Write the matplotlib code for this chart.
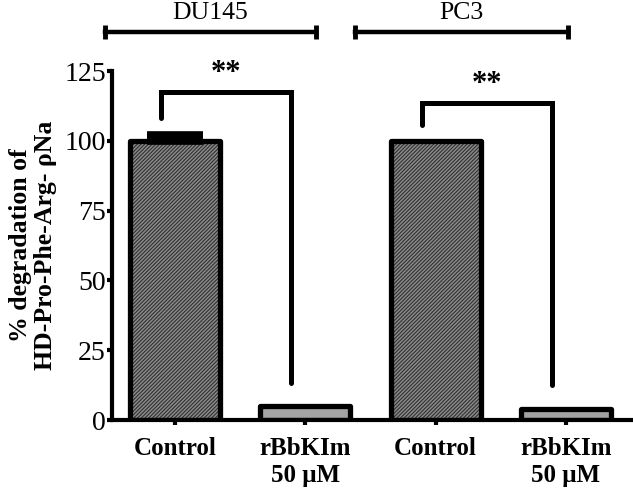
import matplotlib
matplotlib.use('Agg')
import matplotlib.pyplot as plt
import numpy as np

# data
labels = ['Control', 'rBbKIm\n50 \u03bcM', 'Control', 'rBbKIm\n50 \u03bcM']
values = [100, 5, 100, 4]
errors = [2, 0, 0, 0]
hatched = [True, False, True, False]
groups = ['DU145', 'PC3']
# significance brackets: (left bar, right bar, top, left leg end, right leg end)
brackets = [(0, 1, 117.6, 108.2, 13.3), (2, 3, 113.6, 105.7, 12.5)]
sig_text = '**'

plt.rcParams['font.family'] = ['Liberation Serif', 'DejaVu Serif']
plt.rcParams['hatch.linewidth'] = 0.8

fig = plt.figure(figsize=(6.33, 4.95), dpi=100)
ax = fig.add_axes([0.177, 0.1515, 0.823, 0.705])

x = np.arange(len(values))
width = 0.69
for xi, v, h in zip(x, values, hatched):
    if h:
        ax.bar(xi, v, width, color='#8a8a8a', edgecolor='#303030',
               hatch='/////////', linewidth=0, zorder=2)
    else:
        ax.bar(xi, v, width, color='#a3a3a3', linewidth=0, zorder=2)
    ax.bar(xi, v, width, fill=False, edgecolor='black', linewidth=3.8,
           joinstyle='round', zorder=3)

for xi, v, e in zip(x, values, errors):
    if e > 0:
        ax.errorbar(xi, v, yerr=[[0], [e]], color='black', capsize=20,
                    capthick=5.5, elinewidth=3, zorder=4)

ax.set_xlim(-0.483, 3.514)
ax.set_ylim(0, 125)
ax.set_yticks([0, 25, 50, 75, 100, 125])
ax.set_xticks(x)
ax.set_xticklabels(labels, fontweight='bold', fontsize=18, linespacing=1.2)
ax.tick_params(axis='y', labelsize=20, length=3.5, width=3, pad=1)
ax.tick_params(axis='x', length=3.5, width=3, pad=9)
for side in ['top', 'right']:
    ax.spines[side].set_visible(False)
for side in ['left', 'bottom']:
    ax.spines[side].set_linewidth(3)
ax.set_ylabel('% degradation of\nHD-Pro-Phe-Arg- \u03c1Na', fontweight='bold',
              fontsize=18.5, labelpad=5, linespacing=1.1)

# significance brackets
off = 0.107
for a, b, top, l_end, r_end in brackets:
    xa, xb = a - off, b - off
    ax.plot([xa, xa, xb, xb], [l_end, top, top, r_end], color='black',
            lw=3.6, solid_capstyle='round', solid_joinstyle='miter',
            clip_on=False, zorder=5)
    ax.text((xa + xb) / 2, top + 1.5, sig_text, ha='center', va='bottom',
            fontsize=22, fontweight='bold', clip_on=False)

# group lines on top
group_spans = [(-0.54, 1.08), (1.38, 3.015)]
for name, (g0, g1) in zip(groups, group_spans):
    ax.plot([g0, g1], [139, 139], color='black', lw=3.2, clip_on=False,
            zorder=5)
    ax.plot([g0, g1], [139, 139], ls='none', marker='|', markersize=9.5,
            mew=3.5, color='black', clip_on=False, zorder=5)
    ax.text((g0 + g1) / 2, 141.8, name, ha='center', va='bottom',
            fontsize=18.5, clip_on=False)

fig.savefig('out.png', dpi=100)
